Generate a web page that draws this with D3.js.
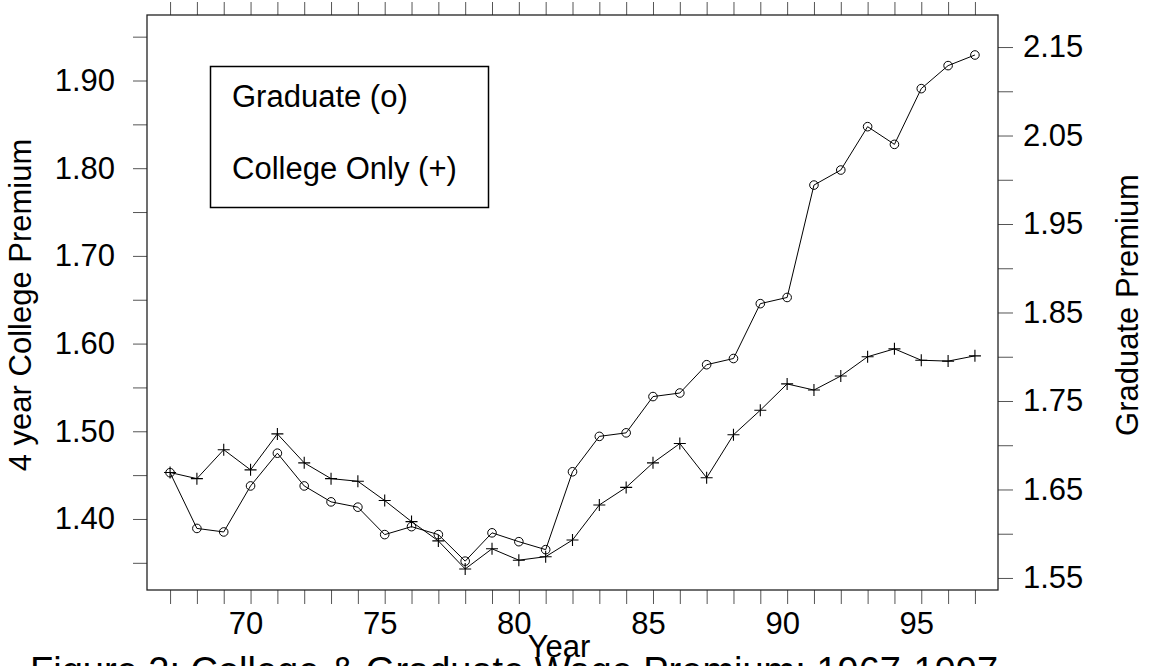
<!DOCTYPE html>
<html><head><meta charset="utf-8">
<script src="https://cdn.jsdelivr.net/npm/d3@7"></script>
<style>
body{margin:0;background:#fff;overflow:hidden}
text{font-family:"Liberation Sans",Arial,Helvetica,sans-serif;fill:#000}
</style>
</head><body><svg id="chart" width="1151" height="666"></svg>
<script>
// ---- data ----
const years = [67,68,69,70,71,72,73,74,75,76,77,78,79,80,81,82,83,84,85,86,87,88,89,90,91,92,93,94,95,96,97];
const collegeOnly = [1.453,1.446,1.479,1.456,1.497,1.464,1.446,1.443,1.421,1.397,1.375,1.343,1.366,1.353,1.357,1.376,1.416,1.436,1.464,1.486,1.447,1.496,1.524,1.554,1.547,1.563,1.585,1.594,1.581,1.580,1.586];
const graduate = [1.669,1.606,1.602,1.654,1.691,1.654,1.636,1.630,1.599,1.608,1.599,1.569,1.601,1.591,1.582,1.670,1.710,1.714,1.755,1.759,1.791,1.798,1.860,1.867,1.994,2.011,2.060,2.040,2.103,2.129,2.141];
const xTickLabels = [70,75,80,85,90,95];
const leftTickValues = [1.35,1.40,1.45,1.50,1.55,1.60,1.65,1.70,1.75,1.80,1.85,1.90,1.95];
const leftTickLabels = [1.40,1.50,1.60,1.70,1.80,1.90];
const rightTickValues = [1.55,1.60,1.65,1.70,1.75,1.80,1.85,1.90,1.95,2.00,2.05,2.10,2.15];
const rightTickLabels = [1.55,1.65,1.75,1.85,1.95,2.05,2.15];
const legendLabels = ["Graduate (o)", "College Only (+)"];
const xTitle = "Year", yLeftTitle = "4 year College Premium", yRightTitle = "Graduate Premium";
const mainTitle = "Figure 2: College & Graduate Wage Premium: 1967-1997";

// ---- layout ----
const L = 147, R = 998, T = 15, B = 590;
const FS = 31;
const svg = d3.select("#chart");

const x = d3.scaleLinear().domain([66.14, 97.86]).range([L, R]);
const yL = d3.scaleLinear().domain([1.3190, 1.9747]).range([B, T]);
const yR = d3.scaleLinear().domain([1.5364, 2.1862]).range([B, T]);

const near = (arr, v) => arr.some(a => Math.abs(a - v) < 1e-9);

function styleAxis(g){
  g.select(".domain").remove();
  g.selectAll(".tick line").attr("stroke", "#555").attr("stroke-width", 1);
  g.selectAll("text").attr("font-size", FS).attr("font-family", '"Liberation Sans",Arial,sans-serif').attr("fill", "#000");
}

// bottom axis
svg.append("g").attr("transform", `translate(0,${B})`)
  .call(d3.axisBottom(x).tickValues(years).tickSize(14).tickSizeOuter(0).tickPadding(8)
    .tickFormat(d => near(xTickLabels, d) ? d3.format("d")(d) : ""))
  .call(styleAxis)
  .call(g => g.selectAll("text").attr("dx", -5));

// top axis (ticks only)
svg.append("g").attr("transform", `translate(0,${T})`)
  .call(d3.axisTop(x).tickValues(years).tickSize(13).tickSizeOuter(0).tickFormat(() => ""))
  .call(styleAxis);

// left axis
svg.append("g").attr("transform", `translate(${L},0)`)
  .call(d3.axisLeft(yL).tickValues(leftTickValues).tickSize(14).tickSizeOuter(0).tickPadding(18)
    .tickFormat(d => near(leftTickLabels, d) ? d3.format(".2f")(d) : ""))
  .call(styleAxis);

// right axis
svg.append("g").attr("transform", `translate(${R},0)`)
  .call(d3.axisRight(yR).tickValues(rightTickValues).tickSize(15).tickSizeOuter(0).tickPadding(10)
    .tickFormat(d => near(rightTickLabels, d) ? d3.format(".2f")(d) : ""))
  .call(styleAxis);

// frame
svg.append("rect").attr("x", L).attr("y", T).attr("width", R - L).attr("height", B - T)
  .attr("fill", "none").attr("stroke", "#222").attr("stroke-width", 1.3);

// series
const colData = years.map((yr, i) => ({yr, v: collegeOnly[i]}));
const gradData = years.map((yr, i) => ({yr, v: graduate[i]}));

svg.append("path").datum(colData)
  .attr("d", d3.line().x(d => x(d.yr)).y(d => yL(d.v)))
  .attr("fill", "none").attr("stroke", "#000").attr("stroke-width", 1);
svg.append("path").datum(gradData)
  .attr("d", d3.line().x(d => x(d.yr)).y(d => yR(d.v)))
  .attr("fill", "none").attr("stroke", "#000").attr("stroke-width", 1);

svg.append("g").selectAll("path").data(colData).join("path")
  .attr("transform", d => `translate(${x(d.yr)},${yL(d.v)})`)
  .attr("d", "M-6,0H6M0,-6V6").attr("stroke", "#000").attr("stroke-width", 1.1).attr("fill", "none");
svg.append("g").selectAll("circle").data(gradData).join("circle")
  .attr("cx", d => x(d.yr)).attr("cy", d => yR(d.v)).attr("r", 4.3)
  .attr("fill", "none").attr("stroke", "#000").attr("stroke-width", 1);

// legend
svg.append("rect").attr("x", 210.5).attr("y", 66.5).attr("width", 278).attr("height", 141)
  .attr("fill", "#fff").attr("stroke", "#000").attr("stroke-width", 1.5);
svg.append("g").selectAll("text").data(legendLabels).join("text")
  .attr("x", 232).attr("y", (d, i) => 107 + i * 72).attr("font-size", FS).text(d => d);

// titles
svg.append("text").attr("x", 559).attr("y", 657).attr("text-anchor", "middle").attr("font-size", FS).text(xTitle);
svg.append("text").attr("transform", "translate(31,305) rotate(-90)").attr("text-anchor", "middle").attr("font-size", FS).text(yLeftTitle);
svg.append("text").attr("transform", "translate(1138,305) rotate(-90)").attr("text-anchor", "middle").attr("font-size", FS).text(yRightTitle);
svg.append("text").attr("x", 30).attr("y", 684).attr("font-size", 38).text(mainTitle);
</script>
</body></html>
